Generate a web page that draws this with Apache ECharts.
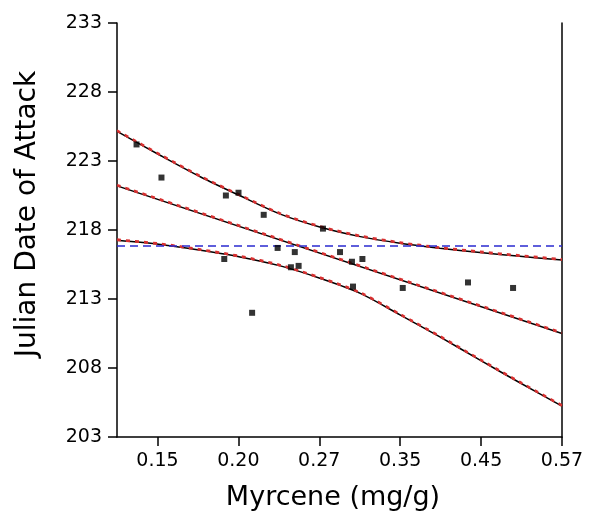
<!DOCTYPE html>
<html>
<head>
<meta charset="utf-8">
<script src="https://cdn.jsdelivr.net/npm/echarts@6/dist/echarts.min.js"></script>
<style>
  html, body { margin: 0; padding: 0; background: #fff; }
  #chart { width: 589px; height: 516px; }
</style>
</head>
<body>
<div id="chart"></div>
<script>
// Observed trees: myrcene concentration (mg/g) and Julian date of attack
const myrcene = [0.140, 0.152, 0.188, 0.196, 0.213, 0.187, 0.205, 0.223, 0.236, 0.233,
                 0.239, 0.259, 0.274, 0.285, 0.295, 0.286, 0.337, 0.418, 0.485];
const attackDate = [224.2, 221.8, 220.5, 220.7, 219.1, 215.9, 212.0, 216.7, 216.4, 215.3,
                    215.4, 218.1, 216.4, 215.7, 215.9, 213.9, 213.8, 214.2, 213.8];

// Fitted regression line (straight on the log-myrcene axis)
const fitMyrcene = [0.1313, 0.570];
const fitDate = [221.2, 210.5];

// 95% confidence band around the fit
const bandMyrcene = [0.1313, 0.1515, 0.173, 0.197, 0.225, 0.257, 0.293, 0.334, 0.381, 0.435, 0.496, 0.570];
const upperBand = [225.15, 223.40, 221.84, 220.48, 219.15, 218.20, 217.52, 217.04, 216.68, 216.37, 216.10, 215.82];
const lowerBand = [217.25, 216.95, 216.53, 216.05, 215.40, 214.49, 213.41, 211.85, 210.25, 208.57, 206.93, 205.24];

// Axis tick labels
const xTickLabels = ['0.15', '0.20', '0.27', '0.35', '0.45', '0.57'];
const yTicks = [203, 208, 213, 218, 223, 228, 233];

// Log scale: ticks evenly spaced in ln(mg/g) between the first and last label
const lnFirst = Math.log(parseFloat(xTickLabels[0]));
const lnLast = Math.log(parseFloat(xTickLabels[xTickLabels.length - 1]));
const step = (lnLast - lnFirst) / (xTickLabels.length - 1);
const xTickPos = xTickLabels.map((_, i) => lnFirst + i * step);
const xMin = lnFirst - step / 2;
const xMax = lnLast;

const toPts = (xs, ys) => xs.map((x, i) => [Math.log(x), ys[i]]);

const FONT = 'DejaVu Sans';
const RED = '#d93030';
const chart = echarts.init(document.getElementById('chart'), null, { renderer: 'canvas' });

const curveBlack = (name, xs, ys) => ({
  name, type: 'line', data: toPts(xs, ys), smooth: 0.3, symbol: 'none', z: 2,
  lineStyle: { color: '#000', width: 1.5 }, silent: true
});
// red dashed trace drawn over the black one, sitting slightly above it
const curveRed = (name, xs, ys) => ({
  name, type: 'line', data: toPts(xs, ys), smooth: 0.3, symbol: 'none', z: 3,
  lineStyle: {
    color: RED, width: 1.6, type: [4, 5],
    shadowColor: RED, shadowOffsetY: -1.2, shadowBlur: 0
  },
  silent: true
});

chart.setOption({
  animation: false,
  backgroundColor: '#fff',
  grid: { left: 117, right: 27, top: 23, bottom: 79 },
  xAxis: {
    type: 'value', min: xMin, max: xMax,
    axisLine: { show: true, onZero: false, lineStyle: { color: '#000', width: 1.5 } },
    axisTick: { show: true, customValues: xTickPos, length: 9, lineStyle: { color: '#000', width: 1.5 } },
    axisLabel: {
      customValues: xTickPos, margin: 15, color: '#000', fontFamily: FONT, fontSize: 19,
      formatter: v => {
        const i = xTickPos.findIndex(p => Math.abs(p - v) < 1e-6);
        return i >= 0 ? xTickLabels[i] : '';
      }
    },
    splitLine: { show: false }
  },
  yAxis: [{
    type: 'value', min: 203, max: 233,
    axisLine: { show: true, onZero: false, lineStyle: { color: '#000', width: 1.5 } },
    axisTick: { show: true, customValues: yTicks, length: 9, lineStyle: { color: '#000', width: 1.5 } },
    axisLabel: { customValues: yTicks, margin: 15, color: '#000', fontFamily: FONT, fontSize: 19 },
    splitLine: { show: false }
  }, {
    type: 'value', min: 203, max: 233, position: 'right',
    axisLine: { show: true, onZero: false, lineStyle: { color: '#000', width: 1.5 } },
    axisTick: { show: false }, axisLabel: { show: false }, splitLine: { show: false }
  }],
  graphic: [{
    type: 'text', x: 333, y: 498,
    style: { text: 'Myrcene (mg/g)', fill: '#000', font: '27px "DejaVu Sans"', align: 'center', verticalAlign: 'middle' }
  }, {
    type: 'text', x: 28, y: 214, rotation: Math.PI / 2,
    style: { text: 'Julian Date of Attack', fill: '#000', font: '28px "DejaVu Sans"', align: 'center', verticalAlign: 'middle' }
  }],
  series: [
    curveBlack('upper', bandMyrcene, upperBand),
    curveBlack('fit', fitMyrcene, fitDate),
    curveBlack('lower', bandMyrcene, lowerBand),
    curveRed('upper-r', bandMyrcene, upperBand),
    curveRed('fit-r', fitMyrcene, fitDate),
    curveRed('lower-r', bandMyrcene, lowerBand),
    {
      name: 'trees', type: 'scatter', z: 5,
      data: toPts(myrcene, attackDate),
      symbol: 'rect', symbolSize: 6,
      itemStyle: { color: '#000' },
      markLine: {
        silent: true, symbol: 'none', label: { show: false },
        lineStyle: { color: '#2a2ad0', width: 1.5, type: [8, 5] },
        data: [{ type: 'average', valueIndex: 1 }]
      }
    }
  ]
});
</script>
</body>
</html>
